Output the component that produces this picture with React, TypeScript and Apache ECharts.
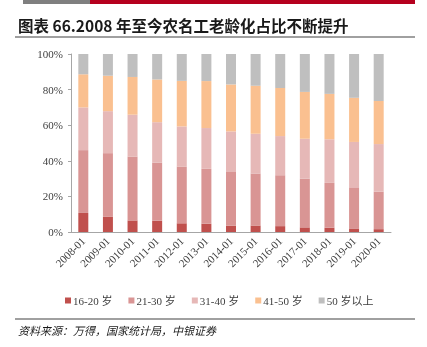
import React, { useEffect, useRef } from "react";
import * as echarts from "echarts";

const categories = ["2008-01","2009-01","2010-01","2011-01","2012-01","2013-01","2014-01","2015-01","2016-01","2017-01","2018-01","2019-01","2020-01"];
const age16to20 = [10.7, 8.5, 6.5, 6.3, 4.9, 4.7, 3.5, 3.7, 3.3, 2.6, 2.4, 2.0, 1.6];
const age21to30 = [35.3, 35.8, 35.9, 32.7, 31.9, 30.8, 30.2, 29.2, 28.6, 27.3, 25.2, 23.1, 21.1];
const age31to40 = [24.0, 23.6, 23.5, 22.7, 22.5, 22.9, 22.8, 22.3, 22.0, 22.5, 24.5, 25.5, 26.7];
const age41to50 = [18.6, 19.9, 21.2, 24.0, 25.6, 26.4, 26.4, 26.9, 27.0, 26.3, 25.5, 24.8, 24.2];
const age50plus = [11.4, 12.2, 12.9, 14.3, 15.1, 15.2, 17.1, 17.9, 19.2, 21.3, 22.4, 24.6, 26.4];
const seriesNames = ["16-20 岁", "21-30 岁", "31-40 岁", "41-50 岁", "50 岁以上"];
const yTicks = [0, 20, 40, 60, 80, 100];

const colors = ["#c0504d", "#d99594", "#e6b8b7", "#fac090", "#bfbfbf"];
const serif = "'Liberation Serif', 'Times New Roman', 'Noto Sans CJK SC', serif";

export default function App() {
  const ref = useRef<HTMLDivElement>(null);
  useEffect(() => {
    if (!ref.current) return;
    const chart = echarts.init(ref.current, null, { renderer: "svg" });
    const data = [age16to20, age21to30, age31to40, age41to50, age50plus];
    chart.setOption({
      animation: false,
      color: colors,
      graphic: [
        { type: "rect", shape: { x: 23, y: 0, width: 67, height: 4 }, style: { fill: "#7f7f7f" } },
        { type: "rect", shape: { x: 90, y: 0, width: 325, height: 4 }, style: { fill: "#b5001e" } },
        {
          type: "text", x: 18, y: 25,
          style: {
            text: "图表 66.2008 年至今农名工老龄化占比不断提升",
            fill: "#1a1a1a", font: "bold 15.5px 'Noto Sans CJK SC', sans-serif",
            verticalAlign: "middle",
          },
        },
        { type: "line", shape: { x1: 15, y1: 37, x2: 415, y2: 37 }, style: { stroke: "#808080", lineWidth: 1.5 } },
        { type: "line", shape: { x1: 15, y1: 319, x2: 415, y2: 319 }, style: { stroke: "#808080", lineWidth: 1.5 } },
        {
          type: "text", x: 18, y: 330,
          style: {
            text: "资料来源：万得，国家统计局，中银证券",
            fill: "#1a1a1a", font: "italic 11px 'Noto Sans CJK SC', sans-serif",
            verticalAlign: "middle",
          },
        },
      ],
      grid: { left: 71, right: 36, top: 54, bottom: 115, containLabel: false },
      legend: {
        data: seriesNames,
        left: 60, top: 290,
        itemWidth: 6, itemHeight: 6, itemGap: 16,
        icon: "rect",
        textStyle: { fontFamily: serif, fontSize: 11, color: "#404040", padding: [0, 0, 0, -3] },
      },
      xAxis: {
        type: "category",
        data: categories,
        axisLine: { lineStyle: { color: "#a6a6a6" } },
        axisTick: { show: false },
        axisLabel: { rotate: 45, fontFamily: serif, fontSize: 11, color: "#404040", margin: 7, interval: 0 },
      },
      yAxis: {
        type: "value",
        min: 0, max: 100, interval: 20,
        axisLine: { show: true, lineStyle: { color: "#a6a6a6" } },
        axisTick: { show: true, length: 3, lineStyle: { color: "#a6a6a6" } },
        splitLine: { show: false },
        axisLabel: {
          fontFamily: serif, fontSize: 11, color: "#404040", margin: 8,
          formatter: (v: number) => (yTicks.includes(v) ? v + "%" : ""),
        },
      },
      series: seriesNames.map((name, i) => ({
        name, type: "bar", stack: "total", barWidth: 10,
        data: data[i],
        itemStyle: { color: colors[i] },
      })),
    });
    return () => chart.dispose();
  }, []);
  return <div ref={ref} style={{ position: "fixed", left: 0, top: 0, width: 427, height: 347 }} />;
}
